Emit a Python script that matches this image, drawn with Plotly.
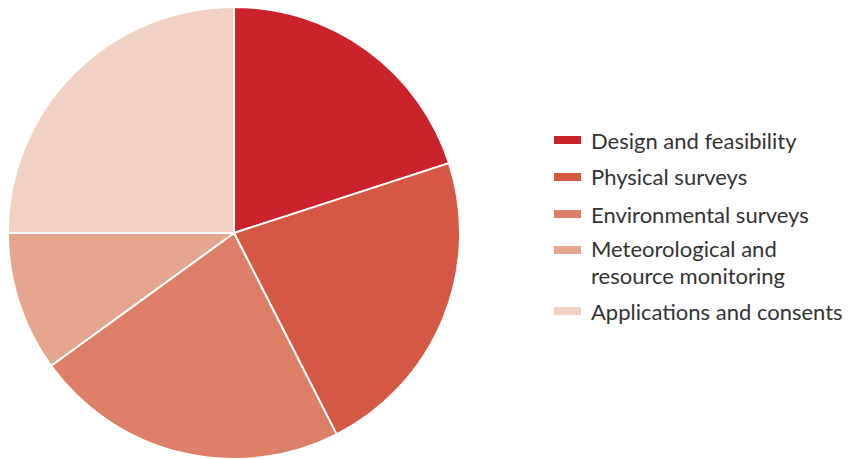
import plotly.graph_objects as go

labels = ["Design and feasibility", "Physical surveys", "Environmental surveys",
          "Meteorological and<br>resource monitoring", "Applications and consents"]
values = [20, 22.5, 22.5, 10, 25]
colors = ["#CB232B", "#D45843", "#DC7F66", "#E5A58F", "#F1D1C4"]

W, H = 849, 459
fig = go.Figure()
fig.add_trace(go.Pie(
    labels=labels, values=values, sort=False, direction="clockwise", rotation=0,
    marker=dict(colors=colors, line=dict(color="white", width=2)),
    textinfo="none", hoverinfo="label+percent", showlegend=False,
    domain=dict(x=[7 / W, 461 / W], y=[0, 0.985]),
))

legend_y = [140, 177, 214, 250, 311]
text_y = [[140], [177], [214], [249, 275], [311]]
shapes, annotations = [], []
for lab, col, yc, tys in zip(labels, colors, legend_y, text_y):
    shapes.append(dict(type="rect", xref="paper", yref="paper",
                       x0=554 / W, x1=581 / W, y0=1 - (yc + 4) / H, y1=1 - (yc - 4) / H,
                       fillcolor=col, line=dict(width=0)))
    for part, ty in zip(lab.split("<br>"), tys):
        annotations.append(dict(text=part, xref="paper", yref="paper", x=589 / W,
                                y=1 - ty / H, xanchor="left", yanchor="middle",
                                showarrow=False, align="left",
                                font=dict(family="Lato", size=22, color="#333333")))

fig.update_layout(width=W, height=H, margin=dict(l=0, r=0, t=0, b=0),
                  paper_bgcolor="white", plot_bgcolor="white",
                  shapes=shapes, annotations=annotations)
fig.write_html("out.html", post_script="document.body.style.margin='0';",
               config={"displayModeBar": False})
